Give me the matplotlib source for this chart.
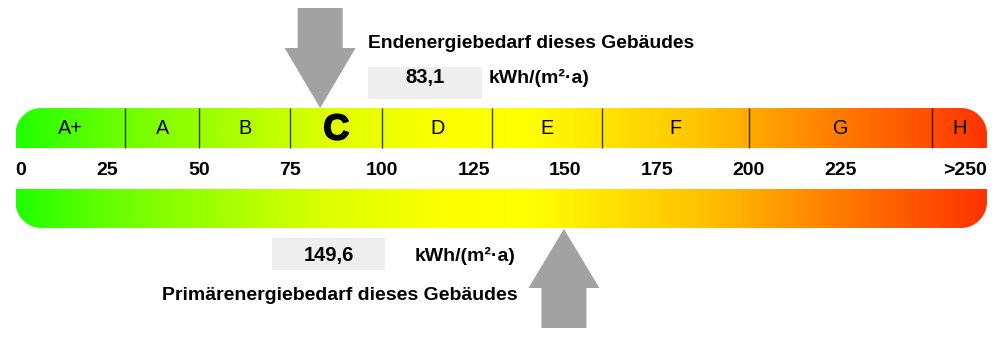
import numpy as np
import matplotlib.pyplot as plt
import matplotlib.patheffects as pe
from matplotlib.colors import LinearSegmentedColormap
from matplotlib.path import Path
from matplotlib.patches import PathPatch, Polygon, Rectangle
from matplotlib.transforms import Affine2D

plt.rcParams['font.family'] = ['Liberation Sans', 'DejaVu Sans']

# energy classes and scale
class_labels = ['A+', 'A', 'B', 'C', 'D', 'E', 'F', 'G', 'H']
class_edges = [0, 30, 50, 75, 100, 130, 160, 200, 250, 265]
tick_values = [0, 25, 50, 75, 100, 125, 150, 175, 200, 225, 265]
tick_labels = ['0', '25', '50', '75', '100', '125', '150', '175', '200', '225', '>250']
current_class = 'C'

end_energy = 83.1
primary_energy = 149.6
end_label = 'Endenergiebedarf dieses Gebäudes'
primary_label = 'Primärenergiebedarf dieses Gebäudes'
unit = 'kWh/(m²·a)'

# colour stops along the scale (value, colour)
grad_values = [0, 25, 50, 85, 115, 140, 160, 190, 210, 235, 265]
grad_colors = ['#22ff00', '#66ff00', '#99ff00', '#ddff00', '#fbff00', '#ffff00',
               '#ffe400', '#ffbf00', '#ff9800', '#ff6800', '#ff3300']

W, H = 1000, 346
PX = 3.666      # pixels per kWh unit
X0 = 15.5       # pixel position of value 0

fig = plt.figure(figsize=(W / 100, H / 100), dpi=100)
ax = fig.add_axes([0, 0, 1, 1])
ax.set_xlim(-X0 / PX, (W - X0) / PX)
ax.set_ylim(H, 0)
ax.axis('off')

# transform for layout in pixel coordinates (y down)
pix = Affine2D().scale(1 / W, -1 / H).translate(0, 1) + fig.transFigure

cmap = LinearSegmentedColormap.from_list(
    'epass', [((v - grad_values[0]) / (grad_values[-1] - grad_values[0]), c)
              for v, c in zip(grad_values, grad_colors)])


def bar_path(x0, x1, y0, y1, r, corners):
    rx, ry = r / PX, r
    t = np.linspace(0, np.pi / 2, 20)
    pts = []
    if 'tl' in corners:
        pts += list(zip(x0 + rx - rx * np.cos(t), y0 + ry - ry * np.sin(t)))
    else:
        pts.append((x0, y0))
    if 'tr' in corners:
        pts += list(zip(x1 - rx + rx * np.sin(t), y0 + ry - ry * np.cos(t)))
    else:
        pts.append((x1, y0))
    if 'br' in corners:
        pts += list(zip(x1 - rx + rx * np.cos(t), y1 - ry + ry * np.sin(t)))
    else:
        pts.append((x1, y1))
    if 'bl' in corners:
        pts += list(zip(x0 + rx - rx * np.sin(t), y1 - ry + ry * np.cos(t)))
    else:
        pts.append((x0, y1))
    pts.append(pts[0])
    return Path(pts, closed=True)


def gradient_bar(y0, y1, corners):
    lo, hi = class_edges[0], class_edges[-1]
    patch = PathPatch(bar_path(lo, hi, y0, y1, 26, corners), fc='none', ec='none')
    ax.add_patch(patch)
    img = ax.imshow(np.linspace(lo, hi, 800)[None, :], cmap=cmap, vmin=lo, vmax=hi,
                    extent=(lo, hi, y1, y0), aspect='auto', interpolation='bilinear')
    img.set_clip_path(patch)


gradient_bar(108, 148, ('tl', 'tr'))
gradient_bar(189, 228, ('bl', 'br'))

# class dividers and letters
ax.vlines(class_edges[1:-1], 108, 148, color='black', alpha=0.75, lw=1)
for lab, a, b in zip(class_labels, class_edges[:-1], class_edges[1:]):
    if lab == current_class:
        ax.text((a + b) / 2, 139.5, lab, ha='center', va='baseline',
                fontsize=26, fontweight='bold',
                path_effects=[pe.withStroke(linewidth=1.2, foreground='black')])
    else:
        ax.text((a + b) / 2, 134, lab, ha='center', va='baseline', fontsize=14.3)

# scale labels
for i, (v, lab) in enumerate(zip(tick_values, tick_labels)):
    ha = 'left' if i == 0 else ('right' if i == len(tick_values) - 1 else 'center')
    ax.text(v, 175, lab, ha=ha, va='baseline', fontsize=14, fontweight='bold')

arrow_c = '#a2a2a2'


def arrow(v, tip, base, end):
    sw, hw = 22.5 / PX, 35.5 / PX
    verts = [(v - sw, end), (v + sw, end), (v + sw, base), (v + hw, base),
             (v, tip), (v - hw, base), (v - sw, base)]
    ax.add_patch(Polygon(verts, closed=True, fc=arrow_c, ec='none'))


arrow(end_energy, 108, 48, 8)
arrow(primary_energy, 229, 288, 328)

# end energy annotation
ax.text(368, 48, end_label, transform=pix, ha='left', va='baseline',
        fontsize=13.9, fontweight='bold')
ax.add_patch(Rectangle((368, 67), 114, 32, transform=pix, fc='#eeeeee', ec='none'))
ax.text(425, 83, f'{end_energy:.1f}'.replace('.', ','), transform=pix,
        ha='center', va='baseline', fontsize=14.5, fontweight='bold')
ax.text(489, 83, unit, transform=pix, ha='left', va='baseline',
        fontsize=14, fontweight='bold')

# primary energy annotation
ax.add_patch(Rectangle((272, 238), 113, 32, transform=pix, fc='#eeeeee', ec='none'))
ax.text(328.5, 261, f'{primary_energy:.1f}'.replace('.', ','), transform=pix,
        ha='center', va='baseline', fontsize=14.5, fontweight='bold')
ax.text(415, 261, unit, transform=pix, ha='left', va='baseline',
        fontsize=14, fontweight='bold')
ax.text(162, 300, primary_label, transform=pix, ha='left', va='baseline',
        fontsize=14, fontweight='bold')

fig.savefig('out.png', dpi=100)
